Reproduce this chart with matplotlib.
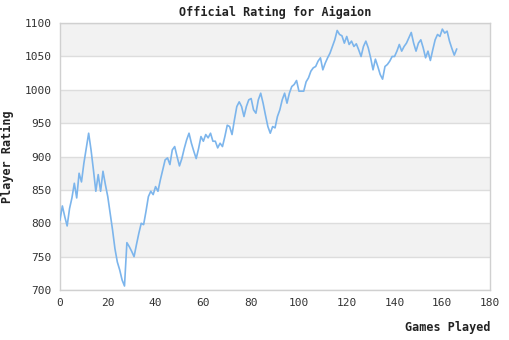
import matplotlib
matplotlib.use("Agg")
import matplotlib.pyplot as plt

# rating after each game, game 0 .. 166
ratings = [
    805, 826, 810, 796, 822, 838, 860, 838, 875, 862,
    890, 912, 935, 910, 880, 848, 873, 848, 878, 858,
    840, 815, 790, 762, 742, 730, 715, 706, 771, 765,
    758, 750, 768, 785, 800, 798, 818, 840, 848, 843,
    855, 848, 865, 880, 895, 898, 888, 910, 915, 900,
    886, 897, 912, 925, 935, 920, 908, 897, 912, 930,
    923, 933, 928, 935, 923, 923, 913, 920, 915, 930,
    947, 945, 933, 955, 975, 982, 975, 960, 975, 985,
    987, 970, 965, 985, 995, 980, 962, 945, 935, 945,
    943, 960, 970, 985, 995, 980, 995, 1005, 1008, 1014,
    998, 998, 998, 1012, 1018, 1028, 1033, 1035, 1043, 1048,
    1030, 1040, 1048, 1055, 1065, 1075, 1089, 1083, 1081, 1070,
    1080, 1068, 1073, 1065, 1069, 1060, 1050, 1065, 1073, 1063,
    1048, 1030, 1046, 1035, 1023, 1016, 1035, 1038, 1043, 1050,
    1050, 1058, 1068, 1058, 1065, 1070, 1078, 1086, 1070, 1058,
    1070, 1075, 1063, 1048, 1058, 1044, 1060, 1075, 1083, 1080,
    1091, 1085, 1088, 1073, 1062, 1052, 1061,
]
games = list(range(len(ratings)))

x_ticks = [0, 20, 40, 60, 80, 100, 120, 140, 160, 180]
y_ticks = [700, 750, 800, 850, 900, 950, 1000, 1050, 1100]

mono = "DejaVu Sans Mono"
text_col = "#333333"

fig = plt.figure(figsize=(5.1, 3.4), dpi=100)
ax = fig.add_axes([0.1176, 0.147, 0.8434, 0.785])

# alternating bands behind the line
for lo in range(750, 1100, 100):
    ax.axhspan(lo, lo + 50, color="#f2f2f2", zorder=0, lw=0)
for y in y_ticks:
    ax.axhline(y, color="#dddddd", lw=1, zorder=1)

ax.plot(games, ratings, color="#7cb5ec", lw=1.2, zorder=3)

ax.set_xlim(0, 180)
ax.set_ylim(700, 1100)
ax.set_xticks(x_ticks)
ax.set_yticks(y_ticks)
ax.tick_params(length=0, labelsize=8, colors=text_col, pad=6)
for lab in ax.get_xticklabels() + ax.get_yticklabels():
    lab.set_family(mono)

for s in ax.spines.values():
    s.set_color("#d0d0d0")
    s.set_linewidth(1)

ax.set_title("Official Rating for Aigaion", family=mono, fontweight="bold",
             fontsize=8.5, color="#222222", pad=5)
ax.set_ylabel("Player Rating", family=mono, fontweight="bold",
              fontsize=8.5, color="#222222", labelpad=8)
ax.set_xlabel("Games Played", family=mono, fontweight="bold",
              fontsize=8.5, color="#222222", loc="right", labelpad=9)

fig.savefig("out.png", dpi=100)
